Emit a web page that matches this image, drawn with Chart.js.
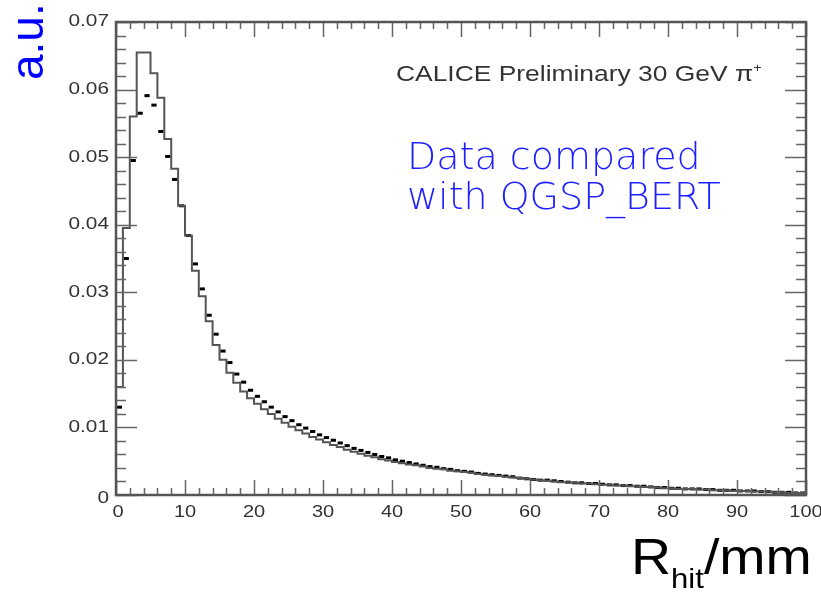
<!DOCTYPE html>
<html>
<head>
<meta charset="utf-8">
<script src="https://cdn.jsdelivr.net/npm/chart.js@4/dist/chart.umd.min.js"></script>
<style>
  body { margin: 0; background: #fff; }
  #wrap { position: relative; width: 821px; height: 594px; }
  .txt { position: absolute; white-space: nowrap; line-height: 1; }
  #calice { left: 396px; top: 61px; font: 22px "Liberation Sans", Arial, sans-serif; color: #333; transform: scaleX(1.2); transform-origin: left top; }
  #calice sup { font-size: 12px; vertical-align: 9px; }
  #blue { left: 407px; top: 136px; font: 200 38px "DejaVu Sans", sans-serif; color: #1e1eff; line-height: 40px; }
  #au { left: 0px; top: 80px; font: 46px "Liberation Sans", Arial, sans-serif; color: #0000ff; transform: rotate(-90deg); transform-origin: left top; }
  #xlab { left: 631px; top: 528px; font: 50px "Liberation Sans", Arial, sans-serif; color: #000; transform: scaleX(1.11); transform-origin: left top; }
  #xlab sub { font-size: 28px; vertical-align: -14px; }
</style>
</head>
<body>
<div id="wrap">
  <canvas id="chart" width="821" height="594"></canvas>
  <div class="txt" id="calice">CALICE Preliminary 30 GeV &pi;<sup>+</sup></div>
  <div class="txt" id="blue">Data compared<br>with QGSP_BERT</div>
  <div class="txt" id="au">a.u.</div>
  <div class="txt" id="xlab">R<sub>hit</sub>/mm</div>
</div>
<script>
// bin edges in mm: bin k covers [k, k+1]
const binStart = 0;
const binWidth = 1;

// simulation (QGSP_BERT), drawn as histogram
const mcValues = [
  0.0160, 0.0395, 0.0560, 0.0655, 0.0655, 0.0624, 0.0588, 0.0527, 0.0483, 0.0428,
  0.0384, 0.0332, 0.0294, 0.0257, 0.0222, 0.0200, 0.0181, 0.0166, 0.0153, 0.0143,
  0.0135, 0.0127, 0.0120, 0.0113, 0.0107, 0.0101, 0.0096, 0.0091, 0.0086, 0.0082,
  0.0078, 0.0074, 0.0071, 0.0067, 0.0064, 0.0061, 0.0058, 0.0056, 0.0053, 0.0051,
  0.0049, 0.0047, 0.0045, 0.0044, 0.0042, 0.0040, 0.0039, 0.0038, 0.0036, 0.0035,
  0.0034, 0.0033, 0.0031, 0.0030, 0.0029, 0.0028, 0.0027, 0.0026, 0.0025, 0.0024,
  0.0023, 0.0022, 0.0021, 0.0020, 0.0019, 0.0019, 0.0018, 0.0017, 0.0017, 0.0016,
  0.0015, 0.0015, 0.0014, 0.0014, 0.0013, 0.0013, 0.0012, 0.0012, 0.0011, 0.0010,
  0.0010, 0.0009, 0.0009, 0.0009, 0.0008, 0.0008, 0.0007, 0.0007, 0.0007, 0.0006,
  0.0006, 0.0006, 0.0005, 0.0005, 0.0005, 0.0004, 0.0004, 0.0003, 0.0003, 0.0003
];

// measured data, drawn as markers at bin centres
const dataValues = [
  0.0130, 0.0350, 0.0495, 0.0565, 0.0591, 0.0577, 0.0538, 0.0501, 0.0467, 0.0428,
  0.0384, 0.0342, 0.0305, 0.0266, 0.0238, 0.0213, 0.0196, 0.0179, 0.0167, 0.0155,
  0.0146, 0.0138, 0.0130, 0.0123, 0.0116, 0.0110, 0.0104, 0.0099, 0.0094, 0.0089,
  0.0085, 0.0081, 0.0077, 0.0073, 0.0069, 0.0066, 0.0063, 0.0060, 0.0057, 0.0055,
  0.0052, 0.0050, 0.0048, 0.0046, 0.0044, 0.0042, 0.0041, 0.0039, 0.0038, 0.0036,
  0.0035, 0.0034, 0.0032, 0.0031, 0.0030, 0.0029, 0.0028, 0.0027, 0.0025, 0.0024,
  0.0023, 0.0022, 0.0022, 0.0021, 0.0020, 0.0019, 0.0018, 0.0018, 0.0017, 0.0017,
  0.0016, 0.0015, 0.0015, 0.0014, 0.0014, 0.0013, 0.0013, 0.0012, 0.0011, 0.0011,
  0.0010, 0.0010, 0.0009, 0.0009, 0.0009, 0.0008, 0.0008, 0.0007, 0.0007, 0.0007,
  0.0006, 0.0006, 0.0006, 0.0005, 0.0005, 0.0004, 0.0004, 0.0004, 0.0003, 0.0003
];

const xTicks = [0, 10, 20, 30, 40, 50, 60, 70, 80, 90, 100];
const yTicks = [0, 0.01, 0.02, 0.03, 0.04, 0.05, 0.06, 0.07];
const yTickLabels = ["0", "0.01", "0.02", "0.03", "0.04", "0.05", "0.06", "0.07"];

// histogram outline: left edge of each bin, then closing right edge
const histPoints = [{ x: binStart, y: 0 }];
mcValues.forEach((v, i) => histPoints.push({ x: binStart + i * binWidth, y: v }));
histPoints.push({ x: binStart + mcValues.length * binWidth, y: mcValues[mcValues.length - 1] });

const dataPoints = dataValues.map((v, i) => ({ x: binStart + (i + 0.5) * binWidth, y: v }));

// ROOT-like frame, ticks on all four sides, and tick labels
const frame = {
  id: "frame",
  afterDraw(chart) {
    const { ctx, chartArea: a, scales: { x, y } } = chart;
    ctx.save();
    ctx.strokeStyle = "#666";
    ctx.lineWidth = 1.5;
    ctx.beginPath();
    for (let v = 0; v <= 100.001; v += 2) {
      const px = Math.round(x.getPixelForValue(v)) + 0.5;
      const len = v % 10 === 0 ? 15 : 7;
      ctx.moveTo(px, a.bottom); ctx.lineTo(px, a.bottom - len);
      ctx.moveTo(px, a.top); ctx.lineTo(px, a.top + len);
    }
    for (let i = 0; i <= 35; i++) {
      const py = Math.round(y.getPixelForValue(i * 0.002)) + 0.5;
      const len = i % 5 === 0 ? 21 : 10;
      ctx.moveTo(a.left, py); ctx.lineTo(a.left + len, py);
      ctx.moveTo(a.right, py); ctx.lineTo(a.right - len, py);
    }
    ctx.stroke();
    ctx.lineWidth = 2.5;
    ctx.strokeStyle = "#555";
    ctx.strokeRect(a.left, a.top, a.right - a.left, a.bottom - a.top);

    ctx.fillStyle = "#333";
    ctx.font = '16px "Liberation Sans", Arial, sans-serif';
    ctx.textBaseline = "middle";
    yTicks.forEach((v, i) => {
      const py = y.getPixelForValue(v) + (v === 0 ? 4 : 0);
      ctx.save();
      ctx.translate(a.left - 7, py);
      ctx.scale(1.3, 1);
      ctx.textAlign = "right";
      ctx.fillText(yTickLabels[i], 0, 0);
      ctx.restore();
    });
    ctx.textBaseline = "top";
    xTicks.forEach(v => {
      const px = x.getPixelForValue(v) + (v === 0 ? 2 : 0);
      ctx.save();
      ctx.translate(px, a.bottom + 10);
      ctx.scale(1.25, 1);
      ctx.textAlign = "center";
      ctx.fillText(String(v), 0, 0);
      ctx.restore();
    });
    ctx.restore();
  }
};

new Chart(document.getElementById("chart"), {
  type: "scatter",
  data: {
    datasets: [
      {
        type: "line",
        label: "QGSP_BERT",
        data: histPoints,
        stepped: "before",
        borderColor: "#555",
        borderWidth: 2,
        pointRadius: 0,
        fill: false
      },
      {
        label: "Data",
        data: dataPoints,
        pointStyle: "line",
        pointRadius: 2.6,
        backgroundColor: "#000",
        borderColor: "#000",
        borderWidth: 3
      }
    ]
  },
  options: {
    responsive: false,
    animation: false,
    layout: { padding: { left: 116, right: 15, top: 22, bottom: 99 } },
    plugins: { legend: { display: false }, tooltip: { enabled: false } },
    scales: {
      x: { type: "linear", min: 0, max: 100, display: false },
      y: { type: "linear", min: 0, max: 0.07, display: false }
    }
  },
  plugins: [frame]
});
</script>
</body>
</html>
